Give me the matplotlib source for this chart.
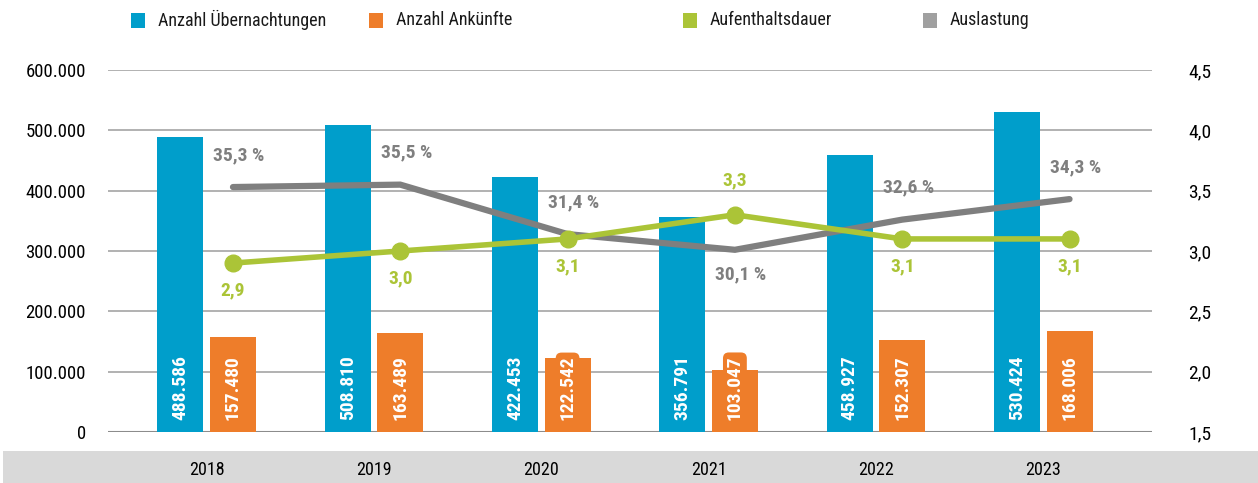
import matplotlib
matplotlib.use("Agg")
import matplotlib.pyplot as plt
from matplotlib.patches import Rectangle
from matplotlib.ticker import FuncFormatter
import numpy as np

# data
years = ["2018", "2019", "2020", "2021", "2022", "2023"]
overnights = [488586, 508810, 422453, 356791, 458927, 530424]
arrivals = [157480, 163489, 122542, 103047, 152307, 168006]
stay = [2.9, 3.0, 3.1, 3.3, 3.1, 3.1]
occupancy = [35.3, 35.5, 31.4, 30.1, 32.6, 34.3]
occ_above = [True, True, True, False, True, True]
stay_above = [False, False, False, True, False, False]

BLUE = "#009ecb"
ORANGE = "#ee7d2a"
GREEN = "#abc437"
GRAY = "#7f7f7f"

plt.rcParams["font.family"] = ["Roboto Condensed", "Roboto", "DejaVu Sans"]


def de_thousands(v, pos=None):
    return f"{int(v):,}".replace(",", ".")


def de_dec(v, pos=None):
    return f"{v:.1f}".replace(".", ",")


W, H = 1258, 483
fig = plt.figure(figsize=(W / 100, H / 100), dpi=100)

# gray band behind the year labels
fig.patches.append(Rectangle((3 / W, 0), 1 - 3 / W, 32 / H, transform=fig.transFigure,
                             facecolor="#d9d9d9", edgecolor="none", zorder=-5))

ax = fig.add_axes([108 / W, 1 - 432 / H, (1152 - 108) / W, (432 - 70) / H])
ax.patch.set_alpha(0)
ax2 = ax.twinx()

x = np.arange(len(years))
bw = 0.275
off = 0.157

ax.bar(x - off, overnights, bw, color=BLUE, zorder=2)
ax.bar(x + off, arrivals, bw, color=ORANGE, zorder=2)

for xi, v in zip(x, overnights):
    ax.annotate(de_thousands(v), (xi - off, 0), xytext=(0, 12), textcoords="offset pixels",
                rotation=90, ha="center", va="bottom", color="white",
                fontsize=14, fontweight="bold", zorder=3)
for xi, v in zip(x, arrivals):
    ax.annotate(de_thousands(v), (xi + off, 0), xytext=(0, 12), textcoords="offset pixels",
                rotation=90, ha="center", va="bottom", color="white",
                fontsize=14, fontweight="bold", zorder=3,
                bbox=dict(boxstyle="round,pad=0.15,rounding_size=0.3", fc=ORANGE, ec="none"))

ax.set_xlim(-0.59, 5.65)
ax.set_ylim(0, 600000)
ax.set_yticks(np.arange(0, 600001, 100000))
ax.yaxis.set_major_formatter(FuncFormatter(de_thousands))
ax.yaxis.grid(True, color="#ababab", lw=1.3, zorder=0)
ax.set_axisbelow(True)
ax.set_xticks(x)
ax.set_xticklabels(years)
ax.tick_params(axis="x", length=0, pad=21, labelsize=13)
ax.tick_params(axis="y", length=0, pad=16, labelsize=13.5)
for s in ax.spines.values():
    s.set_visible(False)
ax.axhline(0, color="#8c8c8c", lw=1.5, zorder=1)

# lines on right axis
occ_scaled = [v / 10 for v in occupancy]
ax2.plot(x + off, occ_scaled, color=GRAY, lw=4.5, solid_capstyle="round",
         solid_joinstyle="miter", zorder=3)
ax2.plot(x + off, stay, color=GREEN, lw=4, marker="o", ms=12, zorder=4,
         solid_capstyle="round")

for xi, v, s, up in zip(x, occupancy, occ_scaled, occ_above):
    ax2.annotate(f"{v:.1f} %".replace(".", ","), (xi + off, s),
                 xytext=(6, 32 if up else -25), textcoords="offset pixels",
                 ha="center", va="center", color=GRAY, fontsize=14, fontweight="bold")
for xi, v, up in zip(x, stay, stay_above):
    ax2.annotate(de_dec(v), (xi + off, v),
                 xytext=(0, 34 if up else -27), textcoords="offset pixels",
                 ha="center", va="center", color=GREEN, fontsize=14, fontweight="bold")

ax2.set_ylim(1.5, 4.5)
ax2.set_yticks(np.arange(1.5, 4.51, 0.5))
ax2.yaxis.set_major_formatter(FuncFormatter(de_dec))
ax2.tick_params(axis="y", length=0, pad=26, labelsize=14)
for s in ax2.spines.values():
    s.set_visible(False)

# legend
legend_items = [("Anzahl Übernachtungen", BLUE, 131),
                ("Anzahl Ankünfte", ORANGE, 369),
                ("Aufenthaltsdauer", GREEN, 683),
                ("Auslastung", "#a0a0a0", 923)]
for label, col, px in legend_items:
    fig.patches.append(Rectangle((px / W, 1 - 28 / H), 14 / W, 15 / H,
                                 transform=fig.transFigure, facecolor=col, edgecolor="none"))
    fig.text((px + 27) / W, 1 - 20 / H, label, ha="left", va="center",
             fontsize=13, color="#1a1a1a")

fig.savefig("out.png", dpi=100)
